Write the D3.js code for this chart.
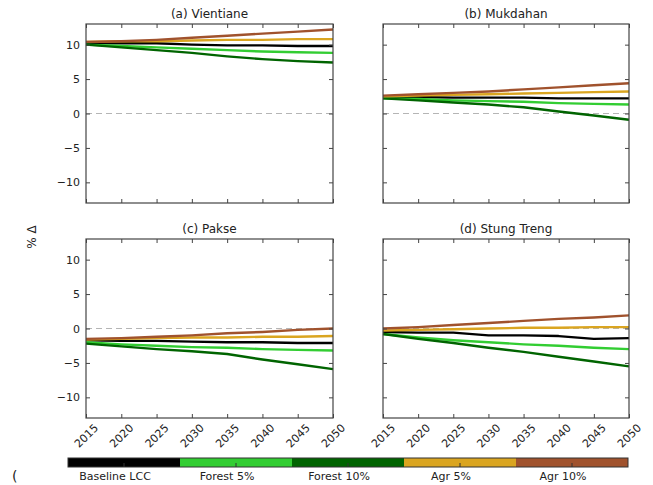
<!DOCTYPE html>
<html><head><meta charset="utf-8">
<script src="https://cdn.jsdelivr.net/npm/d3@7"></script>
<style>body{margin:0;background:#fff}svg{display:block}text{font-family:"DejaVu Sans",sans-serif}</style>
</head><body><div id="c"></div>
<script>
const years = [2015, 2020, 2025, 2030, 2035, 2040, 2045, 2050];
const scenarios = ["Baseline LCC", "Forest 5%", "Forest 10%", "Agr 5%", "Agr 10%"];
const colors = ["#000000", "#32cd32", "#006400", "#daa520", "#a0522d"];
const panelTitles = ["(a) Vientiane", "(b) Mukdahan", "(c) Pakse", "(d) Stung Treng"];
const yTicks = [-10, -5, 0, 5, 10];

const vientiane = [
  [10.2, 10.2, 10.2, 10.0, 9.9, 9.9, 9.8, 9.8],
  [10.0, 9.8, 9.6, 9.4, 9.2, 9.0, 8.9, 8.8],
  [10.0, 9.6, 9.2, 8.8, 8.3, 7.9, 7.6, 7.4],
  [10.4, 10.5, 10.5, 10.6, 10.7, 10.7, 10.8, 10.8],
  [10.4, 10.5, 10.7, 11.0, 11.3, 11.6, 11.9, 12.2]
];
const mukdahan = [
  [2.4, 2.4, 2.3, 2.3, 2.3, 2.2, 2.2, 2.2],
  [2.2, 2.1, 1.9, 1.8, 1.7, 1.5, 1.4, 1.3],
  [2.2, 1.9, 1.6, 1.3, 0.9, 0.3, -0.3, -0.9],
  [2.5, 2.6, 2.7, 2.8, 2.9, 3.0, 3.1, 3.2],
  [2.6, 2.8, 3.0, 3.2, 3.5, 3.8, 4.1, 4.4]
];
const pakse = [
  [-1.7, -1.8, -1.8, -1.9, -2.0, -2.0, -2.1, -2.1],
  [-2.0, -2.3, -2.5, -2.7, -2.8, -3.0, -3.1, -3.2],
  [-2.2, -2.6, -3.0, -3.3, -3.7, -4.5, -5.2, -5.9],
  [-1.6, -1.5, -1.4, -1.3, -1.3, -1.2, -1.2, -1.1],
  [-1.5, -1.4, -1.2, -1.0, -0.7, -0.5, -0.2, 0.0]
];
const stungTreng = [
  [-0.5, -0.6, -0.6, -1.0, -1.0, -1.1, -1.5, -1.4],
  [-0.8, -1.3, -1.7, -2.0, -2.3, -2.5, -2.8, -3.0],
  [-0.8, -1.5, -2.1, -2.8, -3.4, -4.1, -4.8, -5.5],
  [-0.3, -0.2, -0.1, 0.0, 0.1, 0.1, 0.2, 0.2],
  [0.0, 0.2, 0.5, 0.8, 1.1, 1.4, 1.6, 1.9]
];
const panelData = [vientiane, mukdahan, pakse, stungTreng];

const W = 653, H = 485;
const svg = d3.select("#c").append("svg").attr("width", W).attr("height", H);

const panels = [
  {x0: 86, x1: 333, y0: 24, y1: 203, yl: true, xl: false},
  {x0: 383, x1: 629, y0: 24, y1: 203, yl: false, xl: false},
  {x0: 86, x1: 333, y0: 239, y1: 418, yl: true, xl: true},
  {x0: 383, x1: 629, y0: 239, y1: 418, yl: false, xl: true}
];
const frameColor = "#444";

panels.forEach((p, i) => {
  const x = d3.scaleLinear().domain([2015, 2050]).range([p.x0, p.x1]);
  const y = d3.scaleLinear().domain([-13, 13]).range([p.y1, p.y0]);
  const g = svg.append("g");

  g.append("line").attr("x1", p.x0).attr("x2", p.x1).attr("y1", y(0)).attr("y2", y(0))
    .attr("stroke", "#b5b5b5").attr("stroke-width", 1).attr("stroke-dasharray", "6,4");

  const line = d3.line().x((d, k) => x(years[k])).y(d => y(d));
  panelData[i].forEach((vals, s) => {
    g.append("path").attr("d", line(vals)).attr("fill", "none")
      .attr("stroke", colors[s]).attr("stroke-width", 2.4).attr("stroke-linejoin", "round");
  });

  const tl = 4;
  const bottom = g.append("g").attr("transform", `translate(0,${p.y1})`)
    .call(d3.axisBottom(x).tickValues(years).tickSize(-tl).tickFormat(p.xl ? d3.format("d") : ""));
  const top = g.append("g").attr("transform", `translate(0,${p.y0})`)
    .call(d3.axisTop(x).tickValues(years).tickSize(-tl).tickFormat(""));
  const left = g.append("g").attr("transform", `translate(${p.x0},0)`)
    .call(d3.axisLeft(y).tickValues(yTicks).tickSize(-tl).tickFormat(p.yl ? d3.format("d") : ""));
  const right = g.append("g").attr("transform", `translate(${p.x1},0)`)
    .call(d3.axisRight(y).tickValues(yTicks).tickSize(-tl).tickFormat(""));
  [bottom, top, left, right].forEach(a => {
    a.select(".domain").remove();
    a.selectAll(".tick line").attr("stroke", frameColor);
    a.selectAll("text").attr("fill", "#222").style("font-size", "11px").style("font-family", "DejaVu Sans");
  });
  left.selectAll("text").attr("x", -6).text(d => p.yl ? (d < 0 ? "\u2212" + Math.abs(d) : d) : "");
  if (p.xl) {
    bottom.selectAll(".tick text")
      .attr("y", 0).attr("dy", 0)
      .attr("text-anchor", "middle")
      .attr("transform", "translate(0,18) rotate(-45)")
      .attr("dominant-baseline", "central");
  }
  g.append("rect").attr("x", p.x0).attr("y", p.y0).attr("width", p.x1 - p.x0).attr("height", p.y1 - p.y0)
    .attr("fill", "none").attr("stroke", frameColor).attr("stroke-width", 1.2);

  g.append("text").attr("x", (p.x0 + p.x1) / 2).attr("y", p.y0 - 6).attr("text-anchor", "middle")
    .style("font-size", "12px").attr("fill", "#222").text(panelTitles[i]);
});

svg.append("text").attr("transform", "translate(36,237) rotate(-90)").attr("text-anchor", "middle")
  .style("font-size", "12px").attr("fill", "#222").text("% \u0394");

const cb = d3.scaleBand().domain(scenarios).range([68, 628]);
const cbY = 458, cbH = 9;
svg.selectAll(".cbseg").data(scenarios).enter().append("rect")
  .attr("x", d => cb(d)).attr("y", cbY).attr("width", cb.bandwidth()).attr("height", cbH)
  .attr("fill", (d, i) => colors[i]);
svg.selectAll(".cbtick").data(scenarios).enter().append("line")
  .attr("x1", d => cb(d) + cb.bandwidth() / 2).attr("x2", d => cb(d) + cb.bandwidth() / 2)
  .attr("y1", cbY + cbH).attr("y2", cbY + cbH - 4).attr("stroke", "#333").attr("stroke-width", 1);
svg.append("rect").attr("x", 68).attr("y", cbY).attr("width", 560).attr("height", cbH)
  .attr("fill", "none").attr("stroke", "#333").attr("stroke-width", 1);
svg.selectAll(".cblab").data(scenarios).enter().append("text")
  .attr("x", d => cb(d) + cb.bandwidth() / 2 - 9).attr("y", 480).attr("text-anchor", "middle")
  .style("font-size", "11px").attr("fill", "#222").text(d => d);

svg.append("text").attr("x", 12).attr("y", 481).style("font-size", "14px").attr("fill", "#222").text("(");
</script></body></html>
